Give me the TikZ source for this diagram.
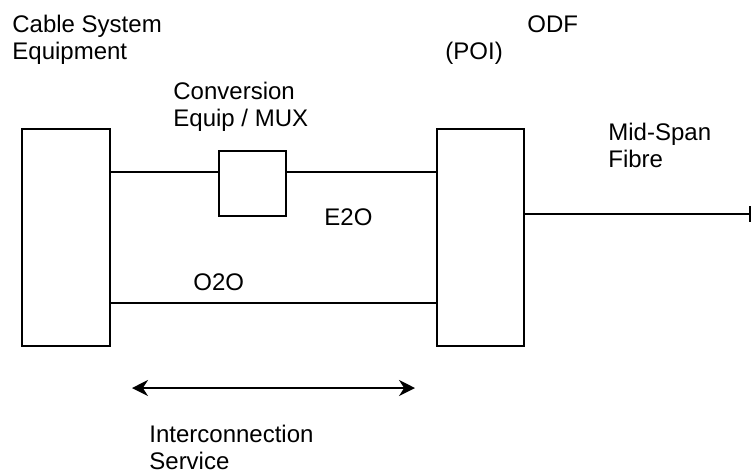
\documentclass[tikz,border=0pt]{standalone}
\usepackage{fontspec}
\setmainfont{Liberation Sans}
\usetikzlibrary{arrows.meta}

\tikzset{
  unit/.style={draw, line width=1.1pt, inner sep=0pt},
  lbl/.style={anchor=north west, inner sep=0pt, align=left},
  wire/.style={line width=1pt},
}

\begin{document}
\begin{tikzpicture}[x=0.5pt,y=-0.5pt,font=\fontsize{12}{13.2}\selectfont,>=Stealth]
  \useasboundingbox (0,0) rectangle (753,472);
  % equipment boxes
  \node[unit,minimum width=44pt,minimum height=108.5pt] (cse) at (66,237.5) {};
  \node[unit,minimum width=33.5pt,minimum height=32.5pt] (conv) at (252.5,183.5) {};
  \node[unit,minimum width=43.5pt,minimum height=108.5pt] (odf) at (480.5,237.5) {};
  % heights of the wires
  \coordinate (etap) at (0,172);
  \coordinate (otap) at (0,303);
  \coordinate (fend) at (751,214);
  \coordinate (ia) at (132,388);
  \coordinate (ib) at (415,388);
  % E2O path through the MUX
  \draw[wire] (cse.east |- etap) -- (conv.west |- etap);
  \draw[wire] (conv.east |- etap) -- (odf.west |- etap);
  % O2O direct path
  \draw[wire] (cse.east |- otap) -- (odf.west |- otap);
  % mid-span fibre
  \draw[wire,-{Bar[width=8pt]}] (odf.east |- fend) -- (fend);
  % interconnection service span
  \draw[wire,{Stealth[length=8pt,width=8pt]}-{Stealth[length=8pt,width=8pt]}] (ia) -- (ib);
  % labels
  \node[lbl] (lcse) at (12,15) {Cable System\\Equipment};
  \node[lbl] (lconv) at (173,82) {Conversion\\Equip / MUX};
  \node[lbl] (lodf) at (527,15) {ODF};
  \node[lbl] (lpoi) at (445,42) {(POI)};
  \node[lbl] (lfib) at (608,123) {Mid-Span\\Fibre};
  \node[lbl] (le2o) at (324,208) {E2O};
  \node[lbl] (lo2o) at (193,273) {O2O};
  \node[lbl] (lics) at (149,425) {Interconnection\\Service};
\end{tikzpicture}
\end{document}
